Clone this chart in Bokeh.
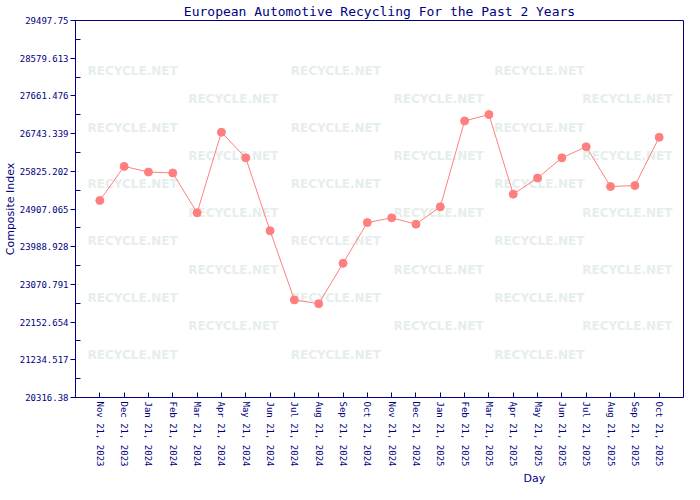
from bokeh.plotting import figure
from bokeh.models import Range1d, FixedTicker, ColumnDataSource, Title
from bokeh.core.properties import value
from bokeh.embed import file_html
from bokeh.resources import INLINE

# ---- data ----
days = ["Nov 21, 2023", "Dec 21, 2023", "Jan 21, 2024", "Feb 21, 2024",
        "Mar 21, 2024", "Apr 21, 2024", "May 21, 2024", "Jun 21, 2024",
        "Jul 21, 2024", "Aug 21, 2024", "Sep 21, 2024", "Oct 21, 2024",
        "Nov 21, 2024", "Dec 21, 2024", "Jan 21, 2025", "Feb 21, 2025",
        "Mar 21, 2025", "Apr 21, 2025", "May 21, 2025", "Jun 21, 2025",
        "Jul 21, 2025", "Aug 21, 2025", "Sep 21, 2025", "Oct 21, 2025"]
composite_index = [25114, 25945, 25807, 25784, 24815, 26776, 26153, 24377,
                   22693, 22600, 23585, 24577, 24692, 24538, 24960, 27052,
                   27207, 25269, 25661, 26153, 26423, 25454, 25477, 26653]
y_ticks = [20316.38, 21234.517, 22152.654, 23070.791, 23988.928, 24907.065,
           25825.202, 26743.339, 27661.476, 28579.613, 29497.75]
y_tick_labels = ["20316.38", "21234.517", "22152.654", "23070.791", "23988.928",
                 "24907.065", "25825.202", "26743.339", "27661.476",
                 "28579.613", "29497.75"]
title_text = "European Automotive Recycling For the Past 2 Years"
x_label = "Day"
y_label = "Composite Index"
watermark = "RECYCLE.NET"

NAVY = "#000080"
LINE = "#ff7f7f"
MONO = "DejaVu Sans Mono"

x_pos = list(range(1, len(days) + 1))
y0, y1 = y_ticks[0], y_ticks[-1]
n_slots = len(days) + 1

p = figure(width=684, height=484, output_backend="svg", toolbar_location=None,
           x_range=Range1d(0, n_slots), y_range=Range1d(y0, y1),
           min_border_left=60, min_border_right=1, min_border_top=0,
           min_border_bottom=60, background_fill_color="white",
           border_fill_color="white")

p.title.text = title_text
p.title.align = "center"
p.title.text_font = MONO
p.title.text_font_size = "13px"
p.title.text_font_style = "normal"
p.title.text_color = NAVY
p.title.standoff = 3

p.xgrid.visible = False
p.ygrid.visible = False
p.outline_line_color = NAVY
p.outline_line_alpha = 1.0

# watermark (decoration), placed as fractions of the frame
wm_x, wm_y = [], []
for k in range(11):
    fy = (53 + 30 * k) / 398.0
    cols = [59, 269, 479] if k % 2 == 0 else [163, 375, 570]
    for c in cols:
        wm_x.append(c / 628.0 * n_slots)
        wm_y.append(y1 - fy * (y1 - y0))
wm_src = ColumnDataSource(dict(x=wm_x, y=wm_y, t=[watermark] * len(wm_x)))
p.text(x="x", y="y", text="t", source=wm_src, text_align="center",
       text_baseline="middle", text_font=value("DejaVu Sans"),
       text_font_style="bold", text_font_size="12px", text_color="#e6eeec")

src = ColumnDataSource(dict(x=x_pos, y=composite_index))
p.line(x="x", y="y", source=src, line_color=LINE, line_width=1)
p.scatter(x="x", y="y", source=src, marker="circle", size=8,
          fill_color=LINE, line_color=LINE)

xa = p.xaxis[0]
xa.ticker = FixedTicker(ticks=x_pos)
xa.major_label_overrides = {i: d for i, d in zip(x_pos, days)}
xa.major_label_orientation = "vertical"
xa.major_tick_in = 5
xa.major_tick_out = 0
xa.minor_tick_in = 0
xa.minor_tick_out = 0
xa.major_label_standoff = 4

ya = p.yaxis[0]
minor = [(a + b) / 2 for a, b in zip(y_ticks[:-1], y_ticks[1:])]
ya.ticker = FixedTicker(ticks=y_ticks, minor_ticks=minor)
ya.major_label_overrides = {v: s for v, s in zip(y_ticks, y_tick_labels)}
ya.major_tick_in = 0
ya.major_tick_out = 5
ya.minor_tick_in = 5
ya.minor_tick_out = 0
ya.major_label_standoff = 2
ya.axis_label = y_label
ya.axis_label_text_font = "DejaVu Sans"
ya.axis_label_text_font_size = "11px"
ya.axis_label_text_font_style = "normal"
ya.axis_label_text_color = NAVY
ya.axis_label_standoff = 0

for ax in (xa, ya):
    ax.axis_line_color = NAVY
    ax.major_tick_line_color = NAVY
    ax.minor_tick_line_color = NAVY
    ax.major_label_text_color = NAVY
    ax.major_label_text_font = MONO
    ax.major_label_text_font_size = "9px"

day_title = Title(text=x_label, align="left", offset=448,
                  text_font="DejaVu Sans", text_font_size="11px",
                  text_font_style="normal", text_color=NAVY, standoff=0)
p.add_layout(day_title, "below")

open("out.html", "w").write(file_html(p, INLINE))
